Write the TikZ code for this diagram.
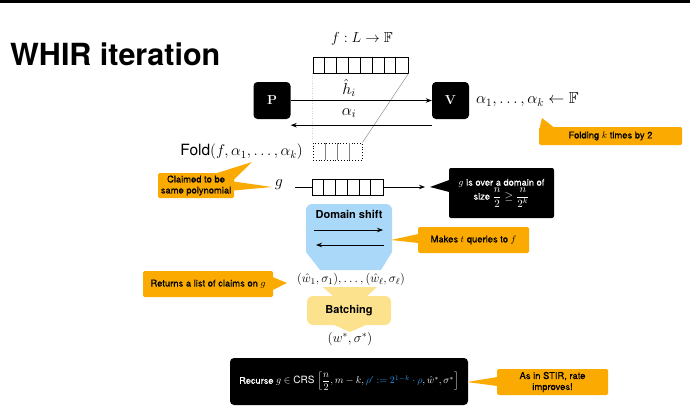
\RequirePackage{fix-cm}
\documentclass[tikz,border=0pt]{standalone}
\usepackage{amsmath,amssymb}
\usepackage{fontspec}
\setsansfont{TeX Gyre Heros}
\newfontfamily\medsans{TeX Gyre Heros}[FakeBold=0.35]
\usetikzlibrary{arrows.meta,calc}
\definecolor{orng}{RGB}{250,170,0}
\definecolor{lblue}{RGB}{170,216,248}
\definecolor{lyel}{RGB}{252,226,140}
\definecolor{mblue}{RGB}{40,150,235}
\tikzset{
  callout/.style={fill=orng, rounded corners=1.5pt, align=center, inner sep=0pt,
    font=\medsans\fontsize{9.4}{11}\selectfont},
  darkbox/.style={fill=black, text=white, rounded corners=2pt, align=center, inner sep=0pt,
    font=\medsans\fontsize{9.3}{11}\selectfont},
  agent/.style={fill=black, text=white, rounded corners=4pt, minimum size=37pt, inner sep=0pt,
    font=\rmfamily\bfseries\fontsize{13}{15}\selectfont},
  mlabel/.style={inner sep=0pt, font=\fontsize{16}{18}\selectfont},
  arr/.style={-{Stealth[length=6pt,width=4.5pt]}, line width=0.8pt},
  cellline/.style={line width=0.6pt},
  shapetext/.style={inner sep=0pt, font=\sffamily\bfseries\fontsize{11}{13}\selectfont},
}
\begin{document}
\begin{tikzpicture}[x=1pt,y=-1pt]
\useasboundingbox (0,0) rectangle (690,415);
\fill[black] (0,0) rectangle (690,2.5);
% title
\node[anchor=base west, inner sep=0pt, font=\sffamily\bfseries\fontsize{30.5}{33}\selectfont] (title) at (10,65) {WHIR iteration};
% f : L -> F
\node[mlabel, font=\fontsize{14.5}{17}\selectfont] (flab) at (362,39) {$f : L \to \mathbb{F}$};
% top array
\node[draw, line width=0.9pt, minimum width=95pt, minimum height=16pt, inner sep=0pt] (farr) at (360.5,65) {};
\foreach \i in {1,...,7} \draw[cellline] ($(farr.north west)+(\i*11.875,0)$) -- ($(farr.south west)+(\i*11.875,0)$);
% dotted fold box
\node[draw, dotted, line width=0.8pt, minimum width=49pt, minimum height=17pt, inner sep=0pt] (dbox) at (337.5,151.5) {};
\foreach \i in {1,2,3} \draw[gray, line width=0.5pt] ($(dbox.north west)+(\i*12.25,0)$) -- ($(dbox.south west)+(\i*12.25,0)$);
\draw[gray, dotted, line width=0.5pt] (farr.south west) -- (dbox.north west);
\draw[gray, line width=0.4pt] (farr.south east) -- (dbox.north east);
% P and V
\node[agent] (P) at (272,100.5) {P};
\node[agent] (V) at (450.5,100.5) {V};
\draw[arr] (P.east) -- (V.west);
\coordinate (la1) at ($(V.south west)+(0,6)$);
\coordinate (la2) at ($(P.south east)+(0,6)$);
\draw[arr] (la1) -- (la2);
\node[mlabel] (hlab) at (349,88) {$\hat{h}_i$};
\node[mlabel] (alab) at (349,113) {$\alpha_i$};
\node[mlabel, anchor=west] (alist) at (476,100) {$\alpha_1, \ldots, \alpha_k \leftarrow \mathbb{F}$};
% Folding callout
\node[callout, minimum width=143pt, minimum height=18pt] (foldc) at (610.5,136) {Folding $k$ times by 2};
\coordinate (foldtip) at (542,118);
\fill[orng] ($(foldc.north west)+(1,0.5)$) -- (foldtip) -- ($(foldc.north west)+(15,0.5)$) -- cycle;
% Fold text
\node[mlabel, font=\fontsize{15.5}{18}\selectfont, anchor=east] (foldt) at (303,152) {\textsf{Fold}$(f, \alpha_1, \ldots, \alpha_k)$};
% g row
\node[mlabel] (g) at (279,185) {$g$};
\node[draw, line width=0.9pt, minimum width=71pt, minimum height=16pt, inner sep=0pt] (garr) at (347.5,187) {};
\foreach \i in {1,...,5} \draw[cellline] ($(garr.north west)+(\i*11.833,0)$) -- ($(garr.south west)+(\i*11.833,0)$);
\coordinate (gl) at (295,187);
\draw[line width=0.8pt] (gl) -- (garr.west);
\coordinate (garrend) at (425,187);
\draw[arr] (garr.east) -- (garrend);
% Claimed callout
\node[callout, minimum width=76pt, minimum height=25pt] (claim) at (196,185.5) {Claimed to be\\same polynomial};
\coordinate (claimtip1) at (252,162);
\coordinate (claimtip2) at (272,187);
\fill[orng] ($(claim.north east)+(-18,0.5)$) -- (claimtip1) -- ($(claim.north east)+(-0.5,7)$) -- cycle;
\fill[orng] ($(claim.east)+(-0.5,-4)$) -- (claimtip2) -- ($(claim.east)+(-0.5,5)$) -- cycle;
% g domain callout
\node[darkbox, minimum width=105pt, minimum height=50pt] (gdom) at (501.5,193) {$g$ is over a domain of\\[-1pt] size {\fontsize{11}{13}\selectfont$\dfrac{n}{2} \geq \dfrac{n}{2^k}$}};
\coordinate (gdomtip) at (430,187);
\fill[black] ($(gdom.west)+(0.5,-13)$) -- (gdomtip) -- ($(gdom.west)+(0.5,-1)$) -- cycle;
% Domain shift shape
\fill[lblue] (306,252) [rounded corners=6pt]-- (306,204) -- (392,204) [sharp corners]-- (392,252) -- (381,270) -- (320,270) -- cycle;
\node[shapetext] (ds) at (349,214) {Domain shift};
\coordinate (ds1) at (314,230); \coordinate (ds2) at (383,230);
\coordinate (ds3) at (384,245); \coordinate (ds4) at (316,245);
\draw[arr] (ds1) -- (ds2);
\draw[arr] (ds3) -- (ds4);
% Makes t queries callout
\node[callout, minimum width=111pt, minimum height=26pt] (makes) at (473.5,240) {Makes $t$ queries to $f$};
\coordinate (makestip) at (391,240);
\fill[orng] ($(makes.west)+(0.5,-6)$) -- (makestip) -- ($(makes.west)+(0.5,3)$) -- cycle;
% list of claims
\node[mlabel, font=\fontsize{12.5}{15}\selectfont] (claims) at (351,279) {$(\hat{w}_1, \sigma_1), \ldots, (\hat{w}_\ell, \sigma_\ell)$};
\node[callout, minimum width=130pt, minimum height=26pt] (ret) at (208,284) {Returns a list of claims on $g$};
\coordinate (rettip) at (287,283);
\fill[orng] ($(ret.east)+(-0.5,-7)$) -- (rettip) -- ($(ret.east)+(-0.5,6)$) -- cycle;
% Batching shape
\fill[lyel] (323,287) -- (377,287) -- (366,297) -- (334,297) -- cycle;
\fill[lyel, rounded corners=6pt] (307,296) rectangle (391,325);
\fill[lyel] (332,324) -- (368,324) -- (350,332) -- cycle;
\node[shapetext] (batch) at (349,311) {Batching};
\node[mlabel, font=\fontsize{13.5}{16}\selectfont] (wstar) at (350,339) {$(w^*, \sigma^*)$};
% Recurse box
\node[darkbox, minimum width=238pt, minimum height=47pt, rounded corners=4pt, font=\medsans\fontsize{9.2}{11}\selectfont] (rec) at (349,381.5)
  {Recurse {\fontsize{10}{12}\selectfont$g \in$ {\sffamily CRS} $\left[\dfrac{n}{2}, m-k, \textcolor{mblue}{\rho' := 2^{1-k}\cdot\rho}, \hat{w}^*, \sigma^*\right]$}};
% STIR callout
\node[callout, minimum width=111pt, minimum height=26pt] (stir) at (552.5,382) {As in STIR, rate\\improves!};
\coordinate (stirtip) at (467,382);
\fill[orng] ($(stir.west)+(0.5,-5)$) -- (stirtip) -- ($(stir.west)+(0.5,4)$) -- cycle;
\end{tikzpicture}
\end{document}
